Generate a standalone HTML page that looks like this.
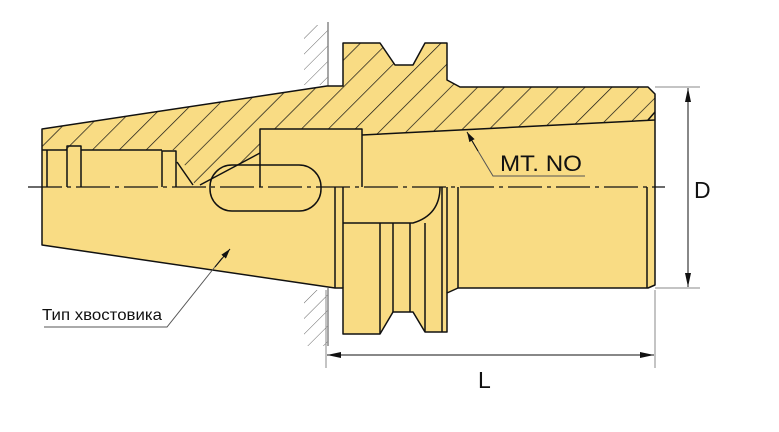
<!DOCTYPE html>
<html><head><meta charset="utf-8"><style>
html,body{margin:0;padding:0;background:#fff;}
svg{display:block;}
text{font-family:"Liberation Sans","DejaVu Sans",sans-serif;}
</style></head><body>
<svg width="779" height="432" viewBox="0 0 779 432" xmlns="http://www.w3.org/2000/svg">
<defs>
<pattern id="h" patternUnits="userSpaceOnUse" width="19" height="19" patternTransform="rotate(45)">
<line x1="0" y1="0" x2="0" y2="19" stroke="#111" stroke-width="1.4"/>
</pattern>
<pattern id="w" patternUnits="userSpaceOnUse" width="11" height="11" patternTransform="rotate(45)">
<line x1="0" y1="0" x2="0" y2="11" stroke="#666" stroke-width="1"/>
</pattern>
<marker id="a" viewBox="0 0 10 6" refX="10" refY="3" markerWidth="10" markerHeight="6" orient="auto" markerUnits="userSpaceOnUse"><path d="M0,0L10,3L0,6z" fill="#111"/></marker>
<marker id="b" viewBox="0 0 14 6" refX="14" refY="3" markerWidth="14" markerHeight="6" orient="auto" markerUnits="userSpaceOnUse"><path d="M0,0L14,3L0,6z" fill="#111"/></marker>
</defs>
<rect x="304" y="25" width="24" height="60" fill="url(#w)"/>
<rect x="304" y="290" width="24" height="56" fill="url(#w)"/>
<line x1="328" y1="22" x2="328" y2="86" stroke="#888" stroke-width="1.5"/>
<line x1="328" y1="288" x2="328" y2="346" stroke="#888" stroke-width="1.5"/>
<path d="M42,129L327,86L343,86L343,43L380,43L395,65L413,65L425,43L447,43L447,80L460,87L648,87L655,94L655,285L648,288L458,288L447,293L447,332L425,332L413,312L393,312L380,334L343,334L343,288L335,288L42,245Z" fill="#F9DC84"/>
<path d="M42,129L327,86L343,86L343,43L380,43L395,65L413,65L425,43L447,43L447,80L460,87L648,87L655,94L655,112L648,120L655,120L362,135L362,129L260,129L260,153L200,185L195,185L177,150L42,150Z" fill="url(#h)"/>
<rect x="210" y="165" width="111" height="46" rx="22" fill="#F9DC84"/>
<g fill="none" stroke="#111" stroke-width="1.5" stroke-linejoin="round">
<path d="M42,129L327,86L343,86L343,43L380,43L395,65L413,65L425,43L447,43L447,80L460,87L648,87L655,94L655,285L648,288L458,288L447,293L447,332L425,332L413,312L393,312L380,334L343,334L343,288L335,288L42,245Z"/>
<path d="M42,150L67,150M81,150L162,150"/>
<path d="M47,150V187M67,187V146H81V187M162,187V151H176V187"/>
<path d="M177,162L193,185M200,185L260,153"/>
<path d="M260,187V129H362V187M362,135L655,120M648,120L655,112"/>
<rect x="210" y="165" width="111" height="46" rx="22"/>
<path d="M335,187V288M343,187V288M343,223H413Q440,215 440,187"/>
<path d="M380,223V334M393,223V312M410,223V312M425,223V332M442,187V332M447,187V293M458,187V288M647,187V288"/>
</g>
<line x1="28" y1="187" x2="665" y2="187" stroke="#111" stroke-width="1.3" stroke-dasharray="34,5,4,5"/>
<g stroke="#888" stroke-width="1"><line x1="655" y1="87" x2="700" y2="87"/><line x1="655" y1="288" x2="700" y2="288"/>
<line x1="326" y1="290" x2="326" y2="368"/><line x1="655" y1="290" x2="655" y2="368"/></g>
<line x1="688" y1="138" x2="688" y2="88" stroke="#111" stroke-width="1" marker-end="url(#b)"/>
<line x1="688" y1="138" x2="688" y2="287" stroke="#111" stroke-width="1" marker-end="url(#b)"/>
<line x1="480" y1="355" x2="327" y2="355" stroke="#111" stroke-width="1" marker-end="url(#b)"/>
<line x1="480" y1="355" x2="654" y2="355" stroke="#111" stroke-width="1" marker-end="url(#b)"/>
<text x="694" y="198" font-size="23" fill="#111">D</text>
<text x="478" y="388" font-size="23" fill="#111">L</text>
<polyline points="585,176 493,176 472,141" fill="none" stroke="#555" stroke-width="1"/>
<line x1="478" y1="151" x2="467" y2="132" stroke="#111" stroke-width="1" marker-end="url(#a)"/>
<text x="500" y="171" font-size="22" fill="#111" textLength="82" lengthAdjust="spacingAndGlyphs">MT. NO</text>
<polyline points="44,327 167,327 222,258" fill="none" stroke="#555" stroke-width="1"/>
<line x1="215" y1="267" x2="230" y2="249" stroke="#111" stroke-width="1" marker-end="url(#a)"/>
<text x="42" y="320" font-size="16" fill="#111" textLength="120" lengthAdjust="spacingAndGlyphs">Тип хвостовика</text>
</svg>
</body></html>
